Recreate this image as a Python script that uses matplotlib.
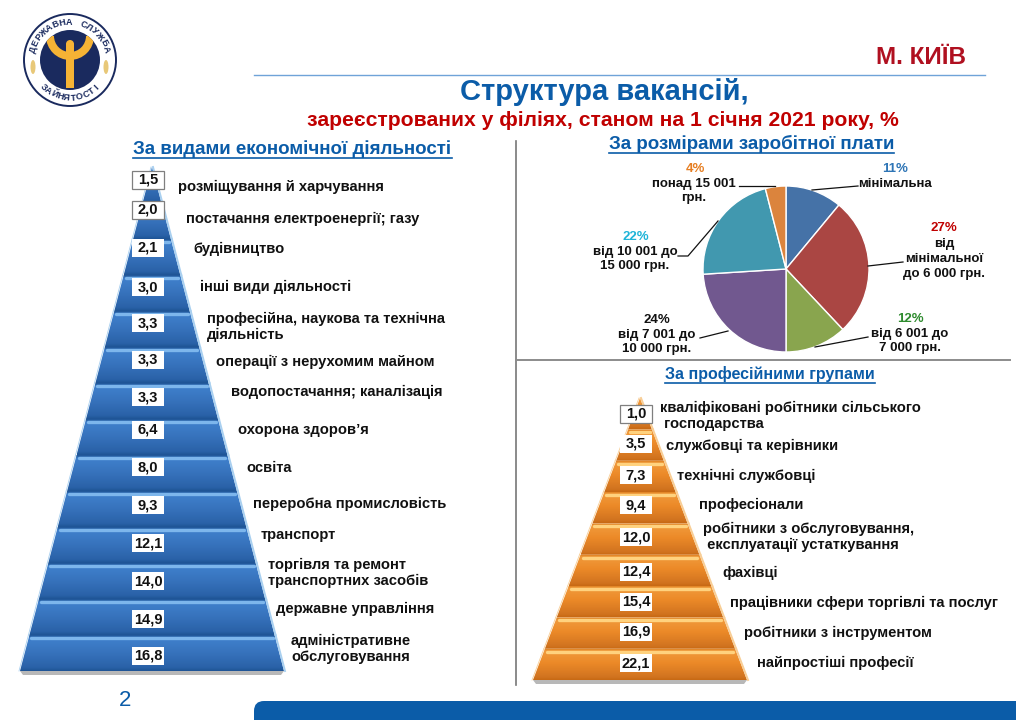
import numpy as np
import matplotlib
matplotlib.use("Agg")
import matplotlib.pyplot as plt
from matplotlib.colors import LinearSegmentedColormap
from matplotlib.patches import Circle, Ellipse, FancyBboxPatch, Polygon, Rectangle, Wedge

plt.rcParams["font.family"] = ["Liberation Sans", "DejaVu Sans"]
plt.rcParams["font.weight"] = "bold"

# data
activity_values = [1.5, 2.0, 2.1, 3.0, 3.3, 3.3, 3.3, 6.4, 8.0, 9.3, 12.1, 14.0, 14.9, 16.8]
activity_labels = [
    "розміщування й харчування",
    "постачання електроенергії; газу",
    "будівництво",
    "інші види діяльності",
    "професійна, наукова та технічна\nдіяльність",
    "операції з нерухомим майном",
    "водопостачання; каналізація",
    "охорона здоров’я",
    "освіта",
    "переробна промисловість",
    "транспорт",
    "торгівля та ремонт\nтранспортних засобів",
    "державне управління",
    "адміністративне\nобслуговування",
]
group_values = [1.0, 3.5, 7.3, 9.4, 12.0, 12.4, 15.4, 16.9, 22.1]
group_labels = [
    "кваліфіковані робітники сільського\n господарства",
    "службовці та керівники",
    "технічні службовці",
    "професіонали",
    "робітники з обслуговування,\n експлуатації устаткування",
    "фахівці",
    "працівники сфери торгівлі та послуг",
    "робітники з інструментом",
    "найпростіші професії",
]
salary_shares = [11, 27, 12, 24, 22, 4]
salary_labels = [
    "мінімальна",
    "від\nмінімальної\nдо 6 000 грн.",
    "від 6 001 до\n7 000 грн.",
    "від 7 001 до\n10 000 грн.",
    "від 10 001 до\n15 000 грн.",
    "понад 15 001\nгрн.",
]

# layout, in reference pixels
activity_box_y = [180, 210, 248, 287, 323, 360, 397, 430, 467, 505, 543, 581, 619, 656]
activity_label_x = [178, 186, 193, 200, 207, 216, 231, 238, 246, 253, 261, 268, 276, 291]
activity_label_y = [187, 219, 249, 287, 327, 362, 392, 430, 468, 504, 535, 573, 609, 649]
group_box_y = [414, 444, 475, 505, 537, 572, 602, 632, 663]
group_label_x = [660, 666, 677, 699, 703, 722, 730, 744, 757]
group_label_y = [416, 446, 476, 505, 537, 573, 603, 633, 663]
salary_colors = ["#4572A7", "#AA4643", "#89A54E", "#71588F", "#4198AF", "#DB843D"]
salary_share_colors = ["#2E75B6", "#C00000", "#2E8B2E", "#111111", "#1FB4D8", "#E67E22"]
salary_share_pos = [(895, 169), (944, 228), (910, 319), (657, 320), (636, 237), (695, 169)]
salary_label_pos = [(895, 184), (944, 259), (910, 341), (657, 342), (635, 259), (694, 191)]
salary_leaders = [
    [(812, 190), (858, 186)],
    [(868, 266), (903, 262)],
    [(815, 347), (868, 337)],
    [(728, 331), (700, 338)],
    [(718, 221), (688, 256), (678, 256)],
    [(775, 186), (739, 186)],
]

BLUE = "#0B5CA8"
fig = plt.figure(figsize=(10.16, 7.2), dpi=100, facecolor="white")
ax = fig.add_axes([0, 0, 1, 1])


def draw_pyramid(apex, base_y, half_base, values, box_y, stops, edge, glow, box_border=0):
    cmap = LinearSegmentedColormap.from_list("layer", stops)
    n = len(values)
    cx, top = apex
    step = (base_y - top) / n
    ax.add_patch(Polygon([(cx - half_base, base_y), (cx + half_base, base_y),
                          (cx + half_base - 3, base_y + 4), (cx - half_base + 3, base_y + 4)],
                         fc="#b8b8b8", ec="none"))
    grad = np.linspace(0, 1, 64).reshape(-1, 1)
    for i in range(n):
        y0 = top + i * step
        y1 = y0 + step
        w0 = half_base * (y0 - top) / (base_y - top)
        w1 = half_base * (y1 - top) / (base_y - top)
        poly = Polygon([(cx - w0, y0), (cx + w0, y0), (cx + w1, y1), (cx - w1, y1)],
                       fc="none", ec="none")
        ax.add_patch(poly)
        im = ax.imshow(grad, extent=(cx - w1, cx + w1, y1, y0), cmap=cmap, aspect="auto",
                       interpolation="bilinear", zorder=2)
        im.set_clip_path(poly)
        ax.plot([cx + w0 + 1, cx + w1 + 1], [y0, y1], color=edge, lw=1.4, zorder=3)
        ax.plot([cx - w0 - 1, cx - w1 - 1], [y0, y1], color=edge, lw=0.6, zorder=3)
        if i > 0:
            ax.plot([cx - w0 + 2, cx + w0 - 2], [y0 + 3, y0 + 3], color=glow, lw=2.4,
                    solid_capstyle="round", zorder=3)
    for i, value in enumerate(values):
        y = box_y[i]
        bordered = i < box_border
        ax.add_patch(Rectangle((cx - 20, y - 9), 32, 18, fc="white",
                               ec="#7f7f7f" if bordered else "none", lw=0.9, zorder=4))
        ax.text(cx - 4, y, f"{value:.1f}".replace(".", ","), ha="center", va="center",
                fontsize=10.5, color="#111111", zorder=5)


def arc_text(text, center, radius, start_deg, end_deg, fontsize, upright_top=True):
    angles = np.linspace(start_deg, end_deg, len(text))
    for ch, a in zip(text, angles):
        x = center[0] + radius * np.cos(np.radians(a))
        y = center[1] - radius * np.sin(np.radians(a))
        rot = a - 90 if upright_top else a + 90
        ax.text(x, y, ch, ha="center", va="center", rotation=rot, fontsize=fontsize,
                color="#1a2a5e", zorder=8)


# logo
lc = (70, 60)
ax.add_patch(Circle(lc, 46, fc="white", ec="#1a2a5e", lw=1.4))
inner = Circle(lc, 30, fc="#1a2a5e", ec="none", zorder=6)
ax.add_patch(inner)
arms = Wedge((70, 36), 24, 0, 180, width=8, fc="#F5B335", ec="none", zorder=7)
ax.add_patch(arms)
arms.set_clip_path(inner)
ax.add_patch(Rectangle((66, 44), 8, 44, fc="#F5B335", ec="none", zorder=7))
ax.add_patch(Circle((70, 44), 4, fc="#F5B335", ec="none", zorder=7))
ax.add_patch(Ellipse((33, 67), 5, 14, fc="#E8C878", ec="none"))
ax.add_patch(Ellipse((106, 67), 5, 14, fc="#E8C878", ec="none"))
arc_text("ДЕРЖАВНА СЛУЖБА", lc, 38, 165, 17, 6.5)
arc_text("ЗАЙНЯТОСТІ", lc, 38, 225, 315, 6.5, upright_top=False)

# header
ax.plot([254, 985], [75, 75], color="#6FA3D8", lw=1)
ax.text(921, 58, "М. КИЇВ", color="#B01020", fontsize=17.5, ha="center", va="center")
ax.text(604, 92, "Структура вакансій,", color=BLUE, fontsize=21, ha="center", va="center")
ax.text(603, 120, "зареєстрованих у філіях, станом на 1 січня 2021 року, %", color="#C00000",
        fontsize=15.2, ha="center", va="center")

# section headings
headings = [("За видами економічної діяльності", 133, 452, 149, 13.5),
            ("За розмірами заробітної плати", 609, 894, 144, 13.5),
            ("За професійними групами", 665, 875, 374, 11.5)]
for text, x0, x1, y, size in headings:
    ax.text((x0 + x1) / 2, y, text, color=BLUE, fontsize=size, ha="center", va="center")
    ax.plot([x0, x1], [y + 9, y + 9], color=BLUE, lw=1.2)

# dividers
ax.plot([516, 516], [141, 685], color="#777777", lw=1.2)
ax.plot([516, 1010], [360, 360], color="#8c8c8c", lw=1.4)

# pyramids
blue_stops = [(0, "#1F5596"), (0.08, "#3F80CC"), (0.45, "#3874BE"), (0.9, "#2A62A8"), (1, "#1F5596")]
orange_stops = [(0, "#D87818"), (0.08, "#F09A3C"), (0.45, "#EC8A28"), (0.9, "#D27420"), (1, "#C86A14")]
draw_pyramid((152, 167), 671, 132, activity_values, activity_box_y, blue_stops, "#A9D0F0", "#7DB6EC", 2)
draw_pyramid((640, 398), 680, 107, group_values, group_box_y, orange_stops, "#F8CE96", "#FFD27E", 1)
for label, x, y in zip(activity_labels, activity_label_x, activity_label_y):
    ax.text(x, y, label, fontsize=10.6, color="#111111", va="center", linespacing=1.2)
for label, x, y in zip(group_labels, group_label_x, group_label_y):
    ax.text(x, y, label, fontsize=10.6, color="#111111", va="center", linespacing=1.2)

# pie labels
for pts in salary_leaders:
    xs, ys = zip(*pts)
    ax.plot(xs, ys, color="#111111", lw=0.9, zorder=9)
for label, share, color, lp, sp in zip(salary_labels, salary_shares, salary_share_colors,
                                       salary_label_pos, salary_share_pos):
    ax.text(sp[0], sp[1], f"{share}%", color=color, fontsize=9.5, ha="center", va="center")
    ax.text(lp[0], lp[1], label, color="#111111", fontsize=9.5, ha="center", va="center",
            multialignment="center", linespacing=1.32)

# footer
ax.text(125, 701, "2", color=BLUE, fontsize=16, ha="center", va="center", fontweight="normal")
ax.add_patch(FancyBboxPatch((264, 711), 800, 40, boxstyle="round,pad=10,rounding_size=10",
                            fc=BLUE, ec="none"))

ax.set_xlim(0, 1016)
ax.set_ylim(720, 0)
ax.axis("off")

# pie sits in its own axes so it runs clockwise from the top
pie_cx, pie_cy, pie_r = 786, 269, 83
pie_ax = fig.add_axes([(pie_cx - pie_r) / 1016, 1 - (pie_cy + pie_r) / 720,
                       2 * pie_r / 1016, 2 * pie_r / 720])
pie_ax.pie(salary_shares, colors=salary_colors, startangle=90, counterclock=False, radius=1,
           wedgeprops={"edgecolor": "white", "linewidth": 1})
pie_ax.set_xlim(-1, 1)
pie_ax.set_ylim(-1, 1)
pie_ax.set_zorder(0)
ax.set_zorder(1)
ax.patch.set_alpha(0)

fig.savefig("out.png", dpi=100)
